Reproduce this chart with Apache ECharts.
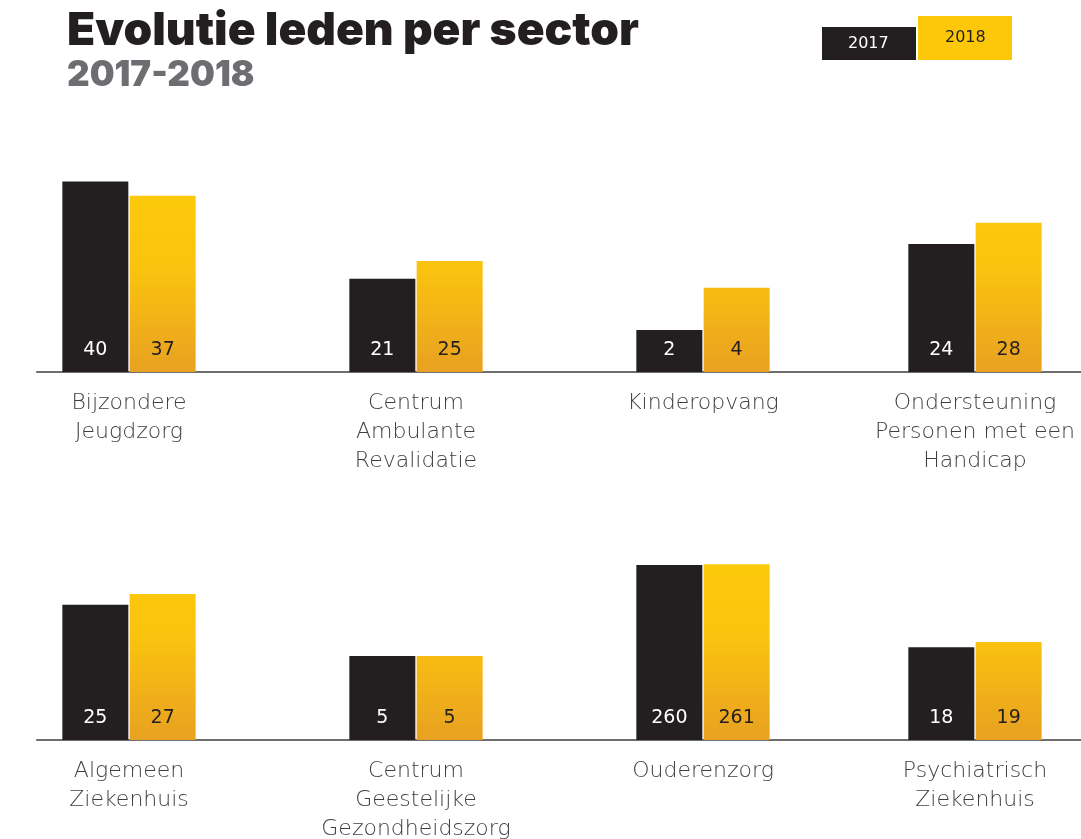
<!DOCTYPE html>
<html>
<head>
<meta charset="utf-8">
<script src="https://cdn.jsdelivr.net/npm/echarts@6/dist/echarts.min.js"></script>
<style>
  html, body { margin: 0; padding: 0; background: #fff; }
  #chart { width: 1081px; height: 839px; }
</style>
</head>
<body>
<div id="chart"></div>
<script>
// sectors, in reading order (top row then bottom row)
const sectors = [
  'Bijzondere\nJeugdzorg',
  'Centrum\nAmbulante\nRevalidatie',
  'Kinderopvang',
  'Ondersteuning\nPersonen met een\nHandicap',
  'Algemeen\nZiekenhuis',
  'Centrum\nGeestelijke\nGezondheidszorg',
  'Ouderenzorg',
  'Psychiatrisch\nZiekenhuis'
];
const members2017 = [40, 21, 2, 24, 25, 5, 260, 18];
const members2018 = [37, 25, 4, 28, 27, 5, 261, 19];
// every sector has its own scale in the original
const scaleMax = [42, 45, 9.5, 37.5, 37, 11.9, 297, 38.8];

const dark = '#231f20';
const yellowTop = '#fdc90b';
const yellowBottom = '#e8a122';

// grid columns: left edge / width, and row baselines
const cols = [[37, 184], [221, 390], [611, 184], [795, 360]];
const rowBase = [372, 740];
const rowHeight = 200;

const chart = echarts.init(document.getElementById('chart'));

const grids = [], xAxes = [], yAxes = [], series = [];
sectors.forEach((name, i) => {
  const row = Math.floor(i / 4);
  const col = cols[i % 4];
  grids.push({
    left: col[0], width: col[1],
    top: rowBase[row] - rowHeight, height: rowHeight,
    outerBoundsMode: 'none'
  });
  xAxes.push({
    gridIndex: i,
    type: 'category',
    data: [name],
    axisLine: { lineStyle: { color: '#6d6e71', width: 2 } },
    axisTick: { show: false },
    axisLabel: {
      margin: 17,
      color: '#3e3e40',
      fontFamily: 'DejaVu Sans',
      fontWeight: 200,
      fontSize: 22,
      lineHeight: 29
    }
  });
  yAxes.push({ gridIndex: i, type: 'value', min: 0, max: scaleMax[i], show: false });

  const labelBase = {
    show: true,
    position: 'insideBottom',
    distance: 12,
    fontFamily: 'DejaVu Sans',
    fontSize: 19
  };
  series.push({
    name: '2017',
    type: 'bar',
    xAxisIndex: i, yAxisIndex: i,
    barWidth: 66,
    barGap: '2%',
    data: [members2017[i]],
    itemStyle: { color: dark },
    label: Object.assign({ color: '#ffffff' }, labelBase),
    silent: true
  });
  series.push({
    name: '2018',
    type: 'bar',
    xAxisIndex: i, yAxisIndex: i,
    barWidth: 66,
    data: [members2018[i]],
    itemStyle: {
      color: new echarts.graphic.LinearGradient(0, rowBase[row] - 175, 0, rowBase[row], [
        { offset: 0, color: yellowTop },
        { offset: 0.4, color: '#fbc30e' },
        { offset: 1, color: yellowBottom }
      ], true)
    },
    label: Object.assign({ color: dark }, labelBase),
    silent: true
  });
});

chart.setOption({
  animation: false,
  title: {
    text: 'Evolutie leden per sector',
    subtext: '2017-2018',
    left: 62,
    top: 3,
    itemGap: 4,
    textStyle: {
      fontFamily: 'Inter',
      fontWeight: 900,
      fontSize: 46,
      color: dark
    },
    subtextStyle: {
      fontFamily: 'Inter',
      fontWeight: 900,
      fontSize: 35,
      color: '#6d6e71'
    }
  },
  graphic: [
    { type: 'rect', left: 822, top: 27, shape: { width: 94, height: 33 }, style: { fill: dark } },
    {
      type: 'text', left: 848, top: 36,
      style: { text: '2017', fill: '#ffffff', font: '16px "DejaVu Sans"' }
    },
    { type: 'rect', left: 918, top: 16, shape: { width: 94, height: 44 }, style: { fill: '#fec80a' } },
    {
      type: 'text', left: 945, top: 30,
      style: { text: '2018', fill: dark, font: '16px "DejaVu Sans"' }
    }
  ],
  grid: grids,
  xAxis: xAxes,
  yAxis: yAxes,
  series: series
});
</script>
</body>
</html>
